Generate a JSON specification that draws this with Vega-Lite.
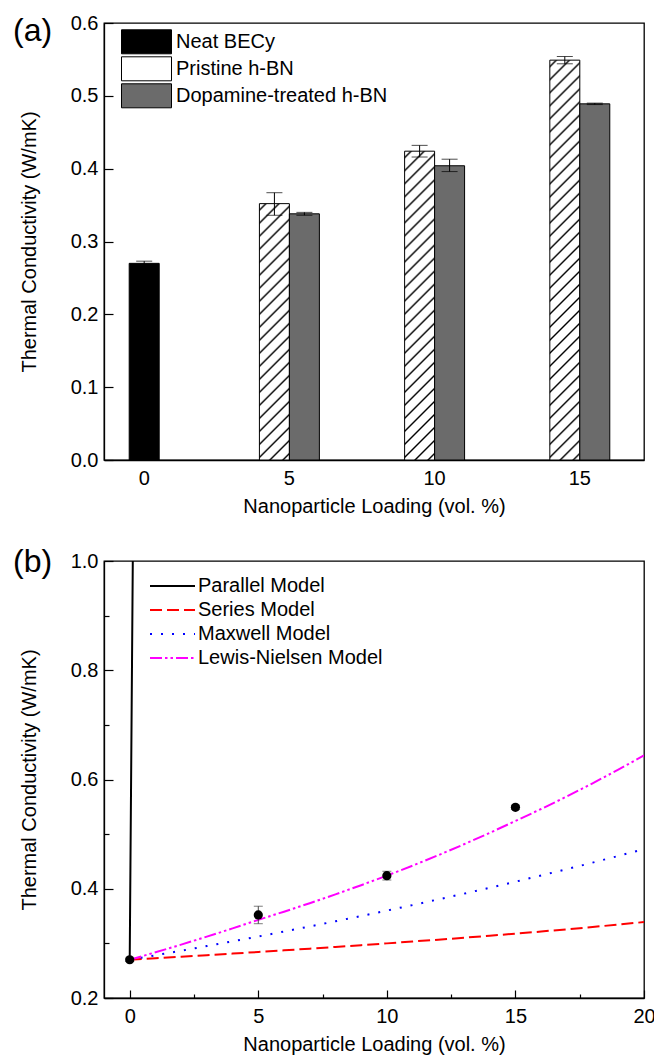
{
  "$schema": "https://vega.github.io/schema/vega-lite/v6.json",
  "padding": {"left": 12, "top": 12, "right": 0, "bottom": 0},
  "spacing": 28,
  "resolve": {"legend": {"fill": "independent", "color": "independent", "strokeDash": "independent"}},
  "config": {
    "font": "Liberation Sans",
    "view": {"stroke": "black", "strokeWidth": 1.3},
    "axis": {"domainColor": "black", "domainWidth": 1.3, "tickColor": "black", "tickWidth": 1.2, "labelColor": "black", "titleColor": "black", "labelFontSize": 20, "titleFontSize": 20, "titleFontWeight": "normal", "grid": false, "labelFont": "Liberation Sans", "titleFont": "Liberation Sans", "labelFlush": false, "labelOverlap": false},
    "legend": {"labelFont": "Liberation Sans", "labelFontSize": 20, "labelColor": "black", "labelLimit": 400},
    "title": {"font": "Liberation Sans", "fontSize": 32, "fontWeight": "normal", "color": "black", "anchor": "start", "frame": "group", "baseline": "top", "offset": 0}
  },
  "datasets": {
    "bars": [
      {"loading": 0, "series": "Neat BECy", "k": 0.270, "lo": 0.267, "hi": 0.273},
      {"loading": 5, "series": "Pristine h-BN", "k": 0.352, "lo": 0.336, "hi": 0.367},
      {"loading": 5, "series": "Dopamine-treated h-BN", "k": 0.338, "lo": 0.336, "hi": 0.340},
      {"loading": 10, "series": "Pristine h-BN", "k": 0.424, "lo": 0.416, "hi": 0.432},
      {"loading": 10, "series": "Dopamine-treated h-BN", "k": 0.404, "lo": 0.396, "hi": 0.413},
      {"loading": 15, "series": "Pristine h-BN", "k": 0.549, "lo": 0.544, "hi": 0.554},
      {"loading": 15, "series": "Dopamine-treated h-BN", "k": 0.489, "lo": 0.488, "hi": 0.490}
    ],
    "models": [
      {"x": 0, "k": 0.270, "model": "Parallel Model"},
      {"x": 0.12, "k": 1.0, "model": "Parallel Model"},
      {"x": 0, "k": 0.2700, "model": "Series Model"},
      {"x": 1, "k": 0.2727, "model": "Series Model"},
      {"x": 2, "k": 0.2755, "model": "Series Model"},
      {"x": 3, "k": 0.2784, "model": "Series Model"},
      {"x": 4, "k": 0.2813, "model": "Series Model"},
      {"x": 5, "k": 0.2842, "model": "Series Model"},
      {"x": 6, "k": 0.2872, "model": "Series Model"},
      {"x": 7, "k": 0.2903, "model": "Series Model"},
      {"x": 8, "k": 0.2935, "model": "Series Model"},
      {"x": 9, "k": 0.2967, "model": "Series Model"},
      {"x": 10, "k": 0.3000, "model": "Series Model"},
      {"x": 11, "k": 0.3034, "model": "Series Model"},
      {"x": 12, "k": 0.3068, "model": "Series Model"},
      {"x": 13, "k": 0.3103, "model": "Series Model"},
      {"x": 14, "k": 0.3140, "model": "Series Model"},
      {"x": 15, "k": 0.3178, "model": "Series Model"},
      {"x": 16, "k": 0.3217, "model": "Series Model"},
      {"x": 17, "k": 0.3258, "model": "Series Model"},
      {"x": 18, "k": 0.3300, "model": "Series Model"},
      {"x": 19, "k": 0.3344, "model": "Series Model"},
      {"x": 20, "k": 0.3390, "model": "Series Model"},
      {"x": 0, "k": 0.2700, "model": "Maxwell Model"},
      {"x": 1, "k": 0.2782, "model": "Maxwell Model"},
      {"x": 2, "k": 0.2865, "model": "Maxwell Model"},
      {"x": 3, "k": 0.2951, "model": "Maxwell Model"},
      {"x": 4, "k": 0.3038, "model": "Maxwell Model"},
      {"x": 5, "k": 0.3126, "model": "Maxwell Model"},
      {"x": 6, "k": 0.3217, "model": "Maxwell Model"},
      {"x": 7, "k": 0.3310, "model": "Maxwell Model"},
      {"x": 8, "k": 0.3404, "model": "Maxwell Model"},
      {"x": 9, "k": 0.3501, "model": "Maxwell Model"},
      {"x": 10, "k": 0.3600, "model": "Maxwell Model"},
      {"x": 11, "k": 0.3701, "model": "Maxwell Model"},
      {"x": 12, "k": 0.3805, "model": "Maxwell Model"},
      {"x": 13, "k": 0.3910, "model": "Maxwell Model"},
      {"x": 14, "k": 0.4019, "model": "Maxwell Model"},
      {"x": 15, "k": 0.4129, "model": "Maxwell Model"},
      {"x": 16, "k": 0.4243, "model": "Maxwell Model"},
      {"x": 17, "k": 0.4359, "model": "Maxwell Model"},
      {"x": 18, "k": 0.4478, "model": "Maxwell Model"},
      {"x": 19, "k": 0.4600, "model": "Maxwell Model"},
      {"x": 20, "k": 0.4725, "model": "Maxwell Model"},
      {"x": 0, "k": 0.2700, "model": "Lewis-Nielsen Model"},
      {"x": 1, "k": 0.2836, "model": "Lewis-Nielsen Model"},
      {"x": 2, "k": 0.2977, "model": "Lewis-Nielsen Model"},
      {"x": 3, "k": 0.3123, "model": "Lewis-Nielsen Model"},
      {"x": 4, "k": 0.3274, "model": "Lewis-Nielsen Model"},
      {"x": 5, "k": 0.3430, "model": "Lewis-Nielsen Model"},
      {"x": 6, "k": 0.3580, "model": "Lewis-Nielsen Model"},
      {"x": 7, "k": 0.3735, "model": "Lewis-Nielsen Model"},
      {"x": 8, "k": 0.3897, "model": "Lewis-Nielsen Model"},
      {"x": 9, "k": 0.4065, "model": "Lewis-Nielsen Model"},
      {"x": 10, "k": 0.4240, "model": "Lewis-Nielsen Model"},
      {"x": 11, "k": 0.4423, "model": "Lewis-Nielsen Model"},
      {"x": 12, "k": 0.4614, "model": "Lewis-Nielsen Model"},
      {"x": 13, "k": 0.4814, "model": "Lewis-Nielsen Model"},
      {"x": 14, "k": 0.5023, "model": "Lewis-Nielsen Model"},
      {"x": 15, "k": 0.5240, "model": "Lewis-Nielsen Model"},
      {"x": 16, "k": 0.5460, "model": "Lewis-Nielsen Model"},
      {"x": 17, "k": 0.5690, "model": "Lewis-Nielsen Model"},
      {"x": 18, "k": 0.5930, "model": "Lewis-Nielsen Model"},
      {"x": 19, "k": 0.6180, "model": "Lewis-Nielsen Model"},
      {"x": 20, "k": 0.6440, "model": "Lewis-Nielsen Model"}
    ],
    "measured": [
      {"x": 0, "k": 0.270, "lo": 0.267, "hi": 0.273},
      {"x": 5, "k": 0.352, "lo": 0.336, "hi": 0.368},
      {"x": 10, "k": 0.424, "lo": 0.416, "hi": 0.432},
      {"x": 15, "k": 0.549, "lo": 0.545, "hi": 0.553}
    ]
  },
  "vconcat": [
    {
      "width": 540,
      "height": 437,
      "title": {"text": "(a)", "dx": -91, "dy": 39},
      "data": {"name": "bars"},
      "encoding": {
        "x": {"field": "loading", "type": "ordinal", "scale": {"paddingInner": 0.587, "paddingOuter": 0.153, "align": 0.23}, "axis": {"labelAngle": 0, "ticks": false, "tickSize": 0, "labelPadding": 8, "title": "Nanoparticle Loading (vol. %)", "titlePadding": 8}}
      },
      "layer": [
        {
          "transform": [{"filter": "datum.series === 'Neat BECy'"}],
          "mark": {"type": "bar", "width": 30, "stroke": "black", "strokeWidth": 1},
          "encoding": {
            "y": {"field": "k", "type": "quantitative", "scale": {"domain": [0, 0.6], "nice": false, "zero": true},
              "axis": {"title": "Thermal Conductivity (W/mK)", "values": [0, 0.05, 0.1, 0.15, 0.2, 0.25, 0.3, 0.35, 0.4, 0.45, 0.5, 0.55, 0.6],
                "tickSize": {"condition": {"test": "abs(datum.value*10 - round(datum.value*10)) < 0.01", "value": -9}, "value": -5},
                "labelExpr": "abs(datum.value*10 - round(datum.value*10)) < 0.01 ? format(datum.value, '.1f') : ''",
                "labelPadding": 15, "titlePadding": 31}},
            "fill": {"field": "series", "type": "nominal",
              "scale": {"domain": ["Neat BECy", "Pristine h-BN", "Dopamine-treated h-BN"], "range": ["black", "white", "#6b6b6b"]},
              "legend": {"title": null, "orient": "none", "legendX": 29.5, "legendY": 5.8, "padding": 0,
                "symbolType": "M-2,-0.96H2V0.96H-2Z", "symbolSize": 625, "symbolStrokeColor": "black", "symbolStrokeWidth": 1, "symbolOpacity": 1,
                "labelFontSize": 20, "labelOffset": 16.5, "rowPadding": -1,
                "encode": {"symbols": {"update": {"fill": [
                  {"test": "datum.value === 'Pristine h-BN'", "value": {"gradient": "linear", "x1": 0, "y1": 0, "x2": 1.2029, "y2": 0.5774, "stops": [
                    {"offset": 0.05633, "color": "#fff"}, {"offset": 0.08333, "color": "#000"}, {"offset": 0.11033, "color": "#fff"},
                    {"offset": 0.223, "color": "#fff"}, {"offset": 0.25, "color": "#000"}, {"offset": 0.277, "color": "#fff"},
                    {"offset": 0.38967, "color": "#fff"}, {"offset": 0.41667, "color": "#000"}, {"offset": 0.44367, "color": "#fff"},
                    {"offset": 0.55633, "color": "#fff"}, {"offset": 0.58333, "color": "#000"}, {"offset": 0.61033, "color": "#fff"},
                    {"offset": 0.723, "color": "#fff"}, {"offset": 0.75, "color": "#000"}, {"offset": 0.777, "color": "#fff"},
                    {"offset": 0.88967, "color": "#fff"}, {"offset": 0.91667, "color": "#000"}, {"offset": 0.94367, "color": "#fff"}]}},
                  {"test": "datum.value === 'Neat BECy'", "value": "black"},
                  {"value": "#6b6b6b"}
                ], "stroke": {"value": "black"}}}}
              }}
          }
        },
        {
          "transform": [{"filter": "datum.series !== 'Neat BECy'"}],
          "mark": {"type": "bar", "stroke": "black", "strokeWidth": 1},
          "encoding": {
            "xOffset": {"field": "series", "type": "nominal", "scale": {"domain": ["Pristine h-BN", "Dopamine-treated h-BN"], "paddingInner": 0, "paddingOuter": 0}},
            "y": {"field": "k", "type": "quantitative", "scale": {"domain": [0, 0.6], "nice": false, "zero": true}, "title": "Thermal Conductivity (W/mK)"},
            "fill": {
              "condition": [
                {"test": "datum.series === 'Pristine h-BN' && datum.loading === 5", "value": {"gradient": "linear", "x1": 0, "y1": 0, "x2": 0.1286, "y2": 1.1017, "stops": [
                  {"offset": 0.01576, "color": "#fff"}, {"offset": 0.02273, "color": "#000"}, {"offset": 0.0297, "color": "#fff"},
                  {"offset": 0.06121, "color": "#fff"}, {"offset": 0.06818, "color": "#000"}, {"offset": 0.07515, "color": "#fff"},
                  {"offset": 0.10667, "color": "#fff"}, {"offset": 0.11364, "color": "#000"}, {"offset": 0.12061, "color": "#fff"},
                  {"offset": 0.15212, "color": "#fff"}, {"offset": 0.15909, "color": "#000"}, {"offset": 0.16606, "color": "#fff"},
                  {"offset": 0.19758, "color": "#fff"}, {"offset": 0.20455, "color": "#000"}, {"offset": 0.21152, "color": "#fff"},
                  {"offset": 0.24303, "color": "#fff"}, {"offset": 0.25, "color": "#000"}, {"offset": 0.25697, "color": "#fff"},
                  {"offset": 0.28848, "color": "#fff"}, {"offset": 0.29545, "color": "#000"}, {"offset": 0.30242, "color": "#fff"},
                  {"offset": 0.33394, "color": "#fff"}, {"offset": 0.34091, "color": "#000"}, {"offset": 0.34788, "color": "#fff"},
                  {"offset": 0.37939, "color": "#fff"}, {"offset": 0.38636, "color": "#000"}, {"offset": 0.39333, "color": "#fff"},
                  {"offset": 0.42485, "color": "#fff"}, {"offset": 0.43182, "color": "#000"}, {"offset": 0.43879, "color": "#fff"},
                  {"offset": 0.4703, "color": "#fff"}, {"offset": 0.47727, "color": "#000"}, {"offset": 0.48424, "color": "#fff"},
                  {"offset": 0.51576, "color": "#fff"}, {"offset": 0.52273, "color": "#000"}, {"offset": 0.5297, "color": "#fff"},
                  {"offset": 0.56121, "color": "#fff"}, {"offset": 0.56818, "color": "#000"}, {"offset": 0.57515, "color": "#fff"},
                  {"offset": 0.60667, "color": "#fff"}, {"offset": 0.61364, "color": "#000"}, {"offset": 0.62061, "color": "#fff"},
                  {"offset": 0.65212, "color": "#fff"}, {"offset": 0.65909, "color": "#000"}, {"offset": 0.66606, "color": "#fff"},
                  {"offset": 0.69758, "color": "#fff"}, {"offset": 0.70455, "color": "#000"}, {"offset": 0.71152, "color": "#fff"},
                  {"offset": 0.74303, "color": "#fff"}, {"offset": 0.75, "color": "#000"}, {"offset": 0.75697, "color": "#fff"},
                  {"offset": 0.78848, "color": "#fff"}, {"offset": 0.79545, "color": "#000"}, {"offset": 0.80242, "color": "#fff"},
                  {"offset": 0.83394, "color": "#fff"}, {"offset": 0.84091, "color": "#000"}, {"offset": 0.84788, "color": "#fff"},
                  {"offset": 0.87939, "color": "#fff"}, {"offset": 0.88636, "color": "#000"}, {"offset": 0.89333, "color": "#fff"},
                  {"offset": 0.92485, "color": "#fff"}, {"offset": 0.93182, "color": "#000"}, {"offset": 0.93879, "color": "#fff"},
                  {"offset": 0.9703, "color": "#fff"}, {"offset": 0.97727, "color": "#000"}, {"offset": 0.98424, "color": "#fff"}]}},
                {"test": "datum.series === 'Pristine h-BN' && datum.loading === 10", "value": {"gradient": "linear", "x1": 0, "y1": 0, "x2": 0.10534, "y2": 1.08672, "stops": [
                  {"offset": 0.01334, "color": "#fff"}, {"offset": 0.01923, "color": "#000"}, {"offset": 0.02512, "color": "#fff"},
                  {"offset": 0.0518, "color": "#fff"}, {"offset": 0.05769, "color": "#000"}, {"offset": 0.06358, "color": "#fff"},
                  {"offset": 0.09026, "color": "#fff"}, {"offset": 0.09615, "color": "#000"}, {"offset": 0.10204, "color": "#fff"},
                  {"offset": 0.12873, "color": "#fff"}, {"offset": 0.13462, "color": "#000"}, {"offset": 0.14051, "color": "#fff"},
                  {"offset": 0.16719, "color": "#fff"}, {"offset": 0.17308, "color": "#000"}, {"offset": 0.17897, "color": "#fff"},
                  {"offset": 0.20565, "color": "#fff"}, {"offset": 0.21154, "color": "#000"}, {"offset": 0.21743, "color": "#fff"},
                  {"offset": 0.24411, "color": "#fff"}, {"offset": 0.25, "color": "#000"}, {"offset": 0.25589, "color": "#fff"},
                  {"offset": 0.28257, "color": "#fff"}, {"offset": 0.28846, "color": "#000"}, {"offset": 0.29435, "color": "#fff"},
                  {"offset": 0.32103, "color": "#fff"}, {"offset": 0.32692, "color": "#000"}, {"offset": 0.33281, "color": "#fff"},
                  {"offset": 0.35949, "color": "#fff"}, {"offset": 0.36538, "color": "#000"}, {"offset": 0.37127, "color": "#fff"},
                  {"offset": 0.39796, "color": "#fff"}, {"offset": 0.40385, "color": "#000"}, {"offset": 0.40974, "color": "#fff"},
                  {"offset": 0.43642, "color": "#fff"}, {"offset": 0.44231, "color": "#000"}, {"offset": 0.4482, "color": "#fff"},
                  {"offset": 0.47488, "color": "#fff"}, {"offset": 0.48077, "color": "#000"}, {"offset": 0.48666, "color": "#fff"},
                  {"offset": 0.51334, "color": "#fff"}, {"offset": 0.51923, "color": "#000"}, {"offset": 0.52512, "color": "#fff"},
                  {"offset": 0.5518, "color": "#fff"}, {"offset": 0.55769, "color": "#000"}, {"offset": 0.56358, "color": "#fff"},
                  {"offset": 0.59026, "color": "#fff"}, {"offset": 0.59615, "color": "#000"}, {"offset": 0.60204, "color": "#fff"},
                  {"offset": 0.62873, "color": "#fff"}, {"offset": 0.63462, "color": "#000"}, {"offset": 0.64051, "color": "#fff"},
                  {"offset": 0.66719, "color": "#fff"}, {"offset": 0.67308, "color": "#000"}, {"offset": 0.67897, "color": "#fff"},
                  {"offset": 0.70565, "color": "#fff"}, {"offset": 0.71154, "color": "#000"}, {"offset": 0.71743, "color": "#fff"},
                  {"offset": 0.74411, "color": "#fff"}, {"offset": 0.75, "color": "#000"}, {"offset": 0.75589, "color": "#fff"},
                  {"offset": 0.78257, "color": "#fff"}, {"offset": 0.78846, "color": "#000"}, {"offset": 0.79435, "color": "#fff"},
                  {"offset": 0.82103, "color": "#fff"}, {"offset": 0.82692, "color": "#000"}, {"offset": 0.83281, "color": "#fff"},
                  {"offset": 0.85949, "color": "#fff"}, {"offset": 0.86538, "color": "#000"}, {"offset": 0.87127, "color": "#fff"},
                  {"offset": 0.89796, "color": "#fff"}, {"offset": 0.90385, "color": "#000"}, {"offset": 0.90974, "color": "#fff"},
                  {"offset": 0.93642, "color": "#fff"}, {"offset": 0.94231, "color": "#000"}, {"offset": 0.9482, "color": "#fff"},
                  {"offset": 0.97488, "color": "#fff"}, {"offset": 0.98077, "color": "#000"}, {"offset": 0.98666, "color": "#fff"}]}},
                {"test": "datum.series === 'Pristine h-BN' && datum.loading === 15", "value": {"gradient": "linear", "x1": 0, "y1": 0, "x2": 0.08, "y2": 1.06886, "stops": [
                  {"offset": 0.01051, "color": "#fff"}, {"offset": 0.01515, "color": "#000"}, {"offset": 0.01979, "color": "#fff"},
                  {"offset": 0.04081, "color": "#fff"}, {"offset": 0.04545, "color": "#000"}, {"offset": 0.05009, "color": "#fff"},
                  {"offset": 0.07112, "color": "#fff"}, {"offset": 0.07576, "color": "#000"}, {"offset": 0.0804, "color": "#fff"},
                  {"offset": 0.10142, "color": "#fff"}, {"offset": 0.10606, "color": "#000"}, {"offset": 0.1107, "color": "#fff"},
                  {"offset": 0.13172, "color": "#fff"}, {"offset": 0.13636, "color": "#000"}, {"offset": 0.141, "color": "#fff"},
                  {"offset": 0.16203, "color": "#fff"}, {"offset": 0.16667, "color": "#000"}, {"offset": 0.17131, "color": "#fff"},
                  {"offset": 0.19233, "color": "#fff"}, {"offset": 0.19697, "color": "#000"}, {"offset": 0.20161, "color": "#fff"},
                  {"offset": 0.22263, "color": "#fff"}, {"offset": 0.22727, "color": "#000"}, {"offset": 0.23191, "color": "#fff"},
                  {"offset": 0.25294, "color": "#fff"}, {"offset": 0.25758, "color": "#000"}, {"offset": 0.26222, "color": "#fff"},
                  {"offset": 0.28324, "color": "#fff"}, {"offset": 0.28788, "color": "#000"}, {"offset": 0.29252, "color": "#fff"},
                  {"offset": 0.31354, "color": "#fff"}, {"offset": 0.31818, "color": "#000"}, {"offset": 0.32282, "color": "#fff"},
                  {"offset": 0.34384, "color": "#fff"}, {"offset": 0.34848, "color": "#000"}, {"offset": 0.35312, "color": "#fff"},
                  {"offset": 0.37415, "color": "#fff"}, {"offset": 0.37879, "color": "#000"}, {"offset": 0.38343, "color": "#fff"},
                  {"offset": 0.40445, "color": "#fff"}, {"offset": 0.40909, "color": "#000"}, {"offset": 0.41373, "color": "#fff"},
                  {"offset": 0.43475, "color": "#fff"}, {"offset": 0.43939, "color": "#000"}, {"offset": 0.44403, "color": "#fff"},
                  {"offset": 0.46506, "color": "#fff"}, {"offset": 0.4697, "color": "#000"}, {"offset": 0.47434, "color": "#fff"},
                  {"offset": 0.49536, "color": "#fff"}, {"offset": 0.5, "color": "#000"}, {"offset": 0.50464, "color": "#fff"},
                  {"offset": 0.52566, "color": "#fff"}, {"offset": 0.5303, "color": "#000"}, {"offset": 0.53494, "color": "#fff"},
                  {"offset": 0.55597, "color": "#fff"}, {"offset": 0.56061, "color": "#000"}, {"offset": 0.56525, "color": "#fff"},
                  {"offset": 0.58627, "color": "#fff"}, {"offset": 0.59091, "color": "#000"}, {"offset": 0.59555, "color": "#fff"},
                  {"offset": 0.61657, "color": "#fff"}, {"offset": 0.62121, "color": "#000"}, {"offset": 0.62585, "color": "#fff"},
                  {"offset": 0.64688, "color": "#fff"}, {"offset": 0.65152, "color": "#000"}, {"offset": 0.65616, "color": "#fff"},
                  {"offset": 0.67718, "color": "#fff"}, {"offset": 0.68182, "color": "#000"}, {"offset": 0.68646, "color": "#fff"},
                  {"offset": 0.70748, "color": "#fff"}, {"offset": 0.71212, "color": "#000"}, {"offset": 0.71676, "color": "#fff"},
                  {"offset": 0.73778, "color": "#fff"}, {"offset": 0.74242, "color": "#000"}, {"offset": 0.74706, "color": "#fff"},
                  {"offset": 0.76809, "color": "#fff"}, {"offset": 0.77273, "color": "#000"}, {"offset": 0.77737, "color": "#fff"},
                  {"offset": 0.79839, "color": "#fff"}, {"offset": 0.80303, "color": "#000"}, {"offset": 0.80767, "color": "#fff"},
                  {"offset": 0.82869, "color": "#fff"}, {"offset": 0.83333, "color": "#000"}, {"offset": 0.83797, "color": "#fff"},
                  {"offset": 0.859, "color": "#fff"}, {"offset": 0.86364, "color": "#000"}, {"offset": 0.86828, "color": "#fff"},
                  {"offset": 0.8893, "color": "#fff"}, {"offset": 0.89394, "color": "#000"}, {"offset": 0.89858, "color": "#fff"},
                  {"offset": 0.9196, "color": "#fff"}, {"offset": 0.92424, "color": "#000"}, {"offset": 0.92888, "color": "#fff"},
                  {"offset": 0.94991, "color": "#fff"}, {"offset": 0.95455, "color": "#000"}, {"offset": 0.95919, "color": "#fff"},
                  {"offset": 0.98021, "color": "#fff"}, {"offset": 0.98485, "color": "#000"}, {"offset": 0.98949, "color": "#fff"}]}}
              ],
              "field": "series", "type": "nominal",
              "scale": {"domain": ["Neat BECy", "Pristine h-BN", "Dopamine-treated h-BN"], "range": ["black", "white", "#6b6b6b"]}
            }
          }
        },
        {
          "transform": [{"filter": "datum.series === 'Neat BECy'"}],
          "mark": {"type": "rule", "color": "black", "strokeWidth": 1},
          "encoding": {"y": {"field": "lo", "type": "quantitative", "title": "Thermal Conductivity (W/mK)"}, "y2": {"field": "hi"}}
        },
        {
          "transform": [{"filter": "datum.series === 'Neat BECy'"}],
          "mark": {"type": "tick", "color": "black", "size": 16, "thickness": 1, "orient": "horizontal"},
          "encoding": {"y": {"field": "hi", "type": "quantitative", "title": "Thermal Conductivity (W/mK)"}}
        },
        {
          "transform": [{"filter": "datum.series === 'Neat BECy'"}],
          "mark": {"type": "tick", "color": "black", "size": 16, "thickness": 1, "orient": "horizontal"},
          "encoding": {"y": {"field": "lo", "type": "quantitative", "title": "Thermal Conductivity (W/mK)"}}
        },
        {
          "transform": [{"filter": "datum.series !== 'Neat BECy'"}],
          "mark": {"type": "rule", "color": "black", "strokeWidth": 1},
          "encoding": {"xOffset": {"field": "series", "type": "nominal"}, "y": {"field": "lo", "type": "quantitative", "title": "Thermal Conductivity (W/mK)"}, "y2": {"field": "hi"}}
        },
        {
          "transform": [{"filter": "datum.series !== 'Neat BECy'"}],
          "mark": {"type": "tick", "color": "black", "size": 16, "thickness": 1, "orient": "horizontal"},
          "encoding": {"xOffset": {"field": "series", "type": "nominal"}, "y": {"field": "hi", "type": "quantitative", "title": "Thermal Conductivity (W/mK)"}}
        },
        {
          "transform": [{"filter": "datum.series !== 'Neat BECy'"}],
          "mark": {"type": "tick", "color": "black", "size": 16, "thickness": 1, "orient": "horizontal"},
          "encoding": {"xOffset": {"field": "series", "type": "nominal"}, "y": {"field": "lo", "type": "quantitative", "title": "Thermal Conductivity (W/mK)"}}
        }
      ]
    },
    {
      "width": 540,
      "height": 437,
      "title": {"text": "(b)", "dx": -91, "dy": 32},
      "layer": [
        {
          "data": {"name": "models"},
          "mark": {"type": "line", "strokeWidth": 2, "clip": true},
          "encoding": {
            "x": {"field": "x", "type": "quantitative", "scale": {"domain": [-1, 20], "nice": false, "zero": false},
              "axis": {"title": "Nanoparticle Loading (vol. %)", "values": [0, 2.5, 5, 7.5, 10, 12.5, 15, 17.5, 20],
                "tickSize": {"condition": {"test": "datum.value % 5 === 0", "value": -8}, "value": -4},
                "labelExpr": "datum.value % 5 === 0 ? format(datum.value, 'd') : ''",
                "labelPadding": 16, "titlePadding": 4}},
            "y": {"field": "k", "type": "quantitative", "scale": {"domain": [0.2, 1.0], "nice": false, "zero": false},
              "axis": {"title": "Thermal Conductivity (W/mK)", "values": [0.2, 0.3, 0.4, 0.5, 0.6, 0.7, 0.8, 0.9, 1.0],
                "tickSize": {"condition": {"test": "abs(datum.value*5 - round(datum.value*5)) < 0.01", "value": -9}, "value": -5},
                "labelExpr": "abs(datum.value*5 - round(datum.value*5)) < 0.01 ? format(datum.value, '.1f') : ''",
                "labelPadding": 15, "titlePadding": 31}},
            "color": {"field": "model", "type": "nominal",
              "scale": {"domain": ["Parallel Model", "Series Model", "Maxwell Model", "Lewis-Nielsen Model"], "range": ["black", "#ff0000", "#0000ff", "#ff00ff"]},
              "legend": {"title": null, "orient": "none", "legendX": 55, "legendY": 11.5, "padding": 0,
                "symbolType": "M-1.8,0H1.8", "symbolSize": 625, "symbolStrokeWidth": 2,
                "labelFontSize": 20, "labelOffset": 12, "rowPadding": -1}},
            "strokeDash": {"field": "model", "type": "nominal",
              "scale": {"domain": ["Parallel Model", "Series Model", "Maxwell Model", "Lewis-Nielsen Model"], "range": [[1, 0], [12, 5], [2, 9], [12, 3, 2.5, 3, 2.5, 3]]}}
          }
        },
        {
          "data": {"name": "measured"},
          "mark": {"type": "rule", "color": "#444", "strokeWidth": 1},
          "encoding": {"x": {"field": "x", "type": "quantitative"}, "y": {"field": "lo", "type": "quantitative", "title": "Thermal Conductivity (W/mK)"}, "y2": {"field": "hi"}}
        },
        {
          "data": {"name": "measured"},
          "mark": {"type": "tick", "color": "#444", "size": 9, "thickness": 1, "orient": "horizontal"},
          "encoding": {"x": {"field": "x", "type": "quantitative"}, "y": {"field": "hi", "type": "quantitative", "title": "Thermal Conductivity (W/mK)"}}
        },
        {
          "data": {"name": "measured"},
          "mark": {"type": "tick", "color": "#444", "size": 9, "thickness": 1, "orient": "horizontal"},
          "encoding": {"x": {"field": "x", "type": "quantitative"}, "y": {"field": "lo", "type": "quantitative", "title": "Thermal Conductivity (W/mK)"}}
        },
        {
          "data": {"name": "measured"},
          "mark": {"type": "circle", "color": "black", "size": 85, "opacity": 1},
          "encoding": {"x": {"field": "x", "type": "quantitative"}, "y": {"field": "k", "type": "quantitative", "title": "Thermal Conductivity (W/mK)"}}
        }
      ]
    }
  ]
}
